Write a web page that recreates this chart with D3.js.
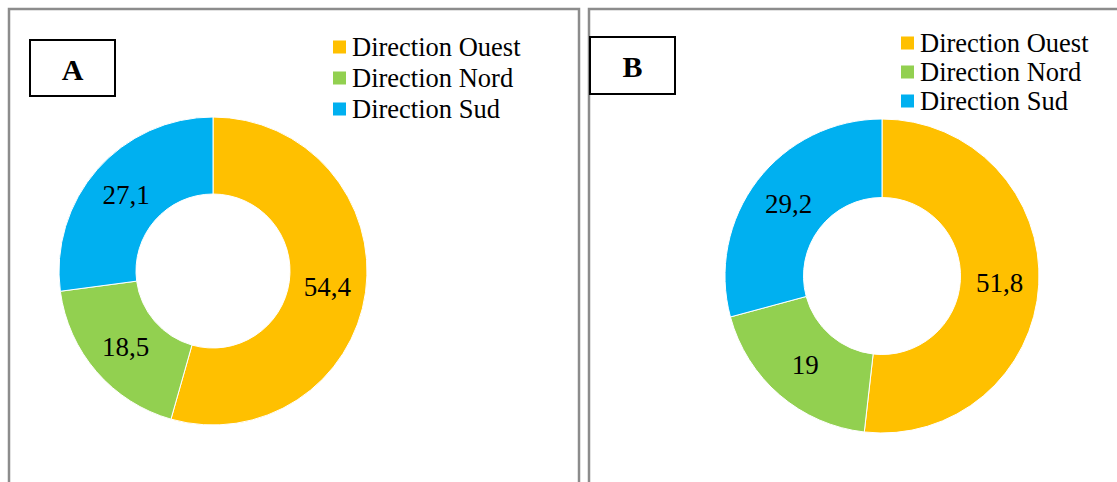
<!DOCTYPE html>
<html>
<head>
<meta charset="utf-8">
<script src="https://d3js.org/d3.v7.min.js"></script>
<style>
  body { margin: 0; background: #fff; }
  svg { display: block; font-family: "Liberation Serif", "Times New Roman", serif; }
</style>
</head>
<body>
<svg id="chart" width="1117" height="482"></svg>
<script>
// categories and values
var categories = ["Direction Ouest", "Direction Nord", "Direction Sud"];
var valuesA = [54.4, 18.5, 27.1];
var valuesB = [51.8, 19, 29.2];
var labelsA = ["54,4", "18,5", "27,1"];
var labelsB = ["51,8", "19", "29,2"];
var colors = ["#FFC000", "#92D050", "#00B0F0"];

var svg = d3.select("#chart");
var color = d3.scaleOrdinal().domain(categories).range(colors);

// panel frames
svg.append("rect").attr("x", 9).attr("y", 9).attr("width", 570).attr("height", 490)
    .attr("fill", "none").attr("stroke", "#8c8c8c").attr("stroke-width", 2.5);
svg.append("rect").attr("x", 589).attr("y", 9).attr("width", 540).attr("height", 490)
    .attr("fill", "none").attr("stroke", "#8c8c8c").attr("stroke-width", 2.5);

function panel(opts) {
    var g = svg.append("g");

    // letter box
    g.append("rect").attr("x", opts.box[0]).attr("y", opts.box[1])
        .attr("width", opts.box[2]).attr("height", opts.box[3])
        .attr("fill", "none").attr("stroke", "#000").attr("stroke-width", 2);
    g.append("text").attr("x", opts.box[0] + opts.box[2] / 2).attr("y", opts.box[1] + opts.box[3] / 2 + 1)
        .attr("text-anchor", "middle").attr("dominant-baseline", "central")
        .attr("font-size", 30).attr("font-weight", "bold").text(opts.letter);

    // donut
    var pie = d3.pie().sort(null).value(function (d) { return d; });
    var arc = d3.arc().innerRadius(opts.r * 0.5).outerRadius(opts.r);
    var arcs = pie(opts.values);
    var donut = g.append("g").attr("transform", "translate(" + opts.cx + "," + opts.cy + ")");
    donut.selectAll("path").data(arcs).enter().append("path")
        .attr("d", arc)
        .attr("fill", function (d, i) { return color(categories[i]); })
        .attr("stroke", "#fff").attr("stroke-width", 1);
    donut.selectAll("text").data(arcs).enter().append("text")
        .attr("transform", function (d) { return "translate(" + arc.centroid(d) + ")"; })
        .attr("text-anchor", "middle").attr("dominant-baseline", "central")
        .attr("font-size", 27)
        .text(function (d, i) { return opts.labels[i]; });

    // legend
    var leg = g.selectAll(".leg").data(categories).enter().append("g")
        .attr("transform", function (d, i) {
            return "translate(" + opts.legX + "," + (opts.legY + i * opts.legStep) + ")";
        });
    leg.append("rect").attr("x", 0).attr("y", -6.5).attr("width", 13).attr("height", 13)
        .attr("fill", function (d) { return color(d); });
    leg.append("text").attr("x", 19).attr("y", 0).attr("dominant-baseline", "central")
        .attr("font-size", 26.5).text(function (d) { return d; });
}

panel({
    letter: "A", box: [30, 40, 85, 56],
    values: valuesA, labels: labelsA,
    cx: 213, cy: 271, r: 154,
    legX: 333, legY: 47, legStep: 31
});
panel({
    letter: "B", box: [590, 37, 85, 57],
    values: valuesB, labels: labelsB,
    cx: 882, cy: 276, r: 157,
    legX: 901, legY: 43, legStep: 29
});
</script>
</body>
</html>
